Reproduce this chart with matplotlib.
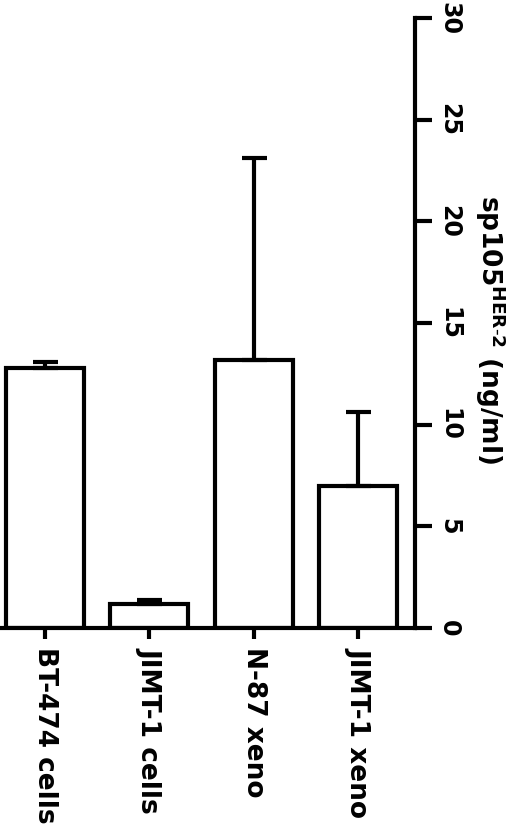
import matplotlib
matplotlib.use("Agg")
import matplotlib.pyplot as plt

categories = ["BT-474 cells", "JIMT-1 cells", "N-87 xeno", "JIMT-1 xeno"]
values = [12.8, 1.2, 13.2, 7.0]
errors = [0.3, 0.2, 9.9, 3.6]
yticks = [0, 5, 10, 15, 20, 25, 30]

fig = plt.figure(figsize=(5.2, 8.36), dpi=100)
ax = fig.add_axes([0.0, 1 - 628/836, 415/520, (628 - 18)/836])
x = list(range(len(categories)))
ax.bar(x, values, width=0.75, color="white", edgecolor="black", linewidth=3,
       yerr=[[0]*4, errors], error_kw=dict(ecolor="black", elinewidth=3, capsize=9, capthick=3))
ax.set_xlim(-0.43, 3.545)
ax.set_ylim(0, 30)
for s in ["top", "left"]:
    ax.spines[s].set_visible(False)
ax.spines["right"].set_linewidth(3)
ax.spines["bottom"].set_linewidth(3)
ax.yaxis.tick_right()
ax.set_yticks(yticks)
ax.set_yticklabels([str(v) for v in yticks], rotation=270, va="center", ha="left",
                   fontsize=17, fontweight="bold")
ax.tick_params(axis="y", length=12, width=3, pad=4)
ax.set_xticks(x)
ax.set_xticklabels(categories, rotation=270, ha="center", va="top",
                   fontsize=19, fontweight="bold")
ax.tick_params(axis="x", length=8, width=3, pad=6)
fig.text(490/520, 1 - 330/836, r"sp105$^{\mathbf{HER\text{-}2}}$ (ng/ml)", rotation=270,
         fontsize=19, fontweight="bold", ha="center", va="center")
fig.savefig("out.png", dpi=100)
